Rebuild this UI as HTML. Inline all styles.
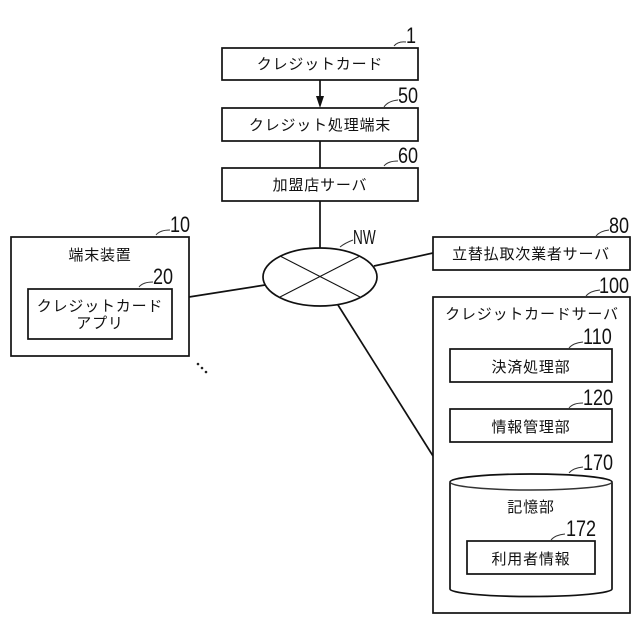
<!DOCTYPE html>
<html><head><meta charset="utf-8"><style>
html,body{margin:0;padding:0;background:#fff}
svg{display:block}
text{font-family:"Liberation Sans","Noto Sans CJK JP",sans-serif;fill:#111}
.j{font-size:15px;text-anchor:middle;letter-spacing:.8px}
.n{font-size:22px;font-family:"Liberation Sans",sans-serif}
rect,ellipse,path.s{fill:#fff;stroke:#111;stroke-width:1.7}
line{stroke:#111;stroke-width:1.7}
path.c{fill:none;stroke:#333;stroke-width:1}
</style></head><body>
<svg width="640" height="640" viewBox="0 0 640 640" xmlns="http://www.w3.org/2000/svg">
<rect x="0" y="0" width="640" height="640" style="fill:#fff;stroke:none"/>
<line x1="320" y1="80" x2="320" y2="100"/>
<path d="M316 96L324 96L320 108Z" fill="#111"/>
<line x1="320" y1="141" x2="320" y2="168"/>
<line x1="320" y1="201" x2="320" y2="248"/>
<line x1="189" y1="297" x2="265" y2="285"/>
<line x1="374" y1="266" x2="433" y2="253"/>
<line x1="338" y1="305" x2="433" y2="456"/>

<rect x="222" y="48" width="196" height="32"/>
<text class="j" x="320" y="69">クレジットカード</text>
<rect x="222" y="108" width="196" height="33"/>
<text class="j" x="320" y="130">クレジット処理端末</text>
<rect x="222" y="168" width="196" height="33"/>
<text class="j" x="320" y="190">加盟店サーバ</text>

<ellipse cx="320" cy="277" rx="57" ry="29"/>
<line x1="280" y1="256" x2="360" y2="297" style="stroke-width:1"/>
<line x1="360" y1="256" x2="280" y2="297" style="stroke-width:1"/>

<rect x="11" y="237" width="178" height="119"/>
<text class="j" x="100" y="260">端末装置</text>
<rect x="28" y="289" width="144" height="50"/>
<text class="j" x="100" y="311">クレジットカード</text>
<text class="j" x="100" y="328">アプリ</text>

<circle cx="198" cy="364" r="1.3" fill="#222"/>
<circle cx="202" cy="368" r="1.3" fill="#222"/>
<circle cx="206" cy="372" r="1.3" fill="#222"/>

<rect x="433" y="237" width="197" height="33"/>
<text class="j" x="531" y="259">立替払取次業者サーバ</text>

<rect x="433" y="297" width="197" height="316"/>
<text class="j" x="532" y="319">クレジットカードサーバ</text>
<rect x="450" y="349" width="162" height="33"/>
<text class="j" x="531" y="372">決済処理部</text>
<rect x="450" y="409" width="162" height="33"/>
<text class="j" x="531" y="432">情報管理部</text>

<path class="s" d="M450 482A81 8 0 0 1 612 482L612 589A81 7.500 0 0 1 450 589Z"/>
<path class="c" style="stroke-width:1.5" d="M450 482A81 8 0 0 0 612 482"/>
<text class="j" x="531" y="512">記憶部</text>
<rect x="467" y="541" width="128" height="33"/>
<text class="j" x="531" y="564">利用者情報</text>

<path class="c" d="M394 46Q398 41 406 42"/>
<text class="n" transform="translate(406 43) scale(.82 1)">1</text>
<path class="c" d="M384 107Q388 101 398 100"/>
<text class="n" transform="translate(398 103) scale(.82 1)">50</text>
<path class="c" d="M384 166Q388 161 398 161"/>
<text class="n" transform="translate(398 163) scale(.82 1)">60</text>
<path class="c" d="M156 235Q160 230 170 230"/>
<text class="n" transform="translate(170 232) scale(.82 1)">10</text>
<path class="c" d="M139 287Q143 282 153 282"/>
<text class="n" transform="translate(153 284) scale(.82 1)">20</text>
<path class="c" d="M340 247Q345 243 353 240"/>
<text class="n" style="font-size:20px" transform="translate(353 244) scale(.68 1)">NW</text>
<path class="c" d="M596 236Q600 231 609 230"/>
<text class="n" transform="translate(609 233) scale(.82 1)">80</text>
<path class="c" d="M586 296Q590 291 600 290"/>
<text class="n" transform="translate(599 293) scale(.82 1)">100</text>
<path class="c" d="M569 348Q573 343 583 342"/>
<text class="n" transform="translate(583 344) scale(.82 1)">110</text>
<path class="c" d="M569 408Q573 403 583 403"/>
<text class="n" transform="translate(583 405) scale(.82 1)">120</text>
<path class="c" d="M569 473Q573 468 583 467"/>
<text class="n" transform="translate(583 470) scale(.82 1)">170</text>
<path class="c" d="M551 540Q555 535 565 534"/>
<text class="n" transform="translate(566 536) scale(.82 1)">172</text>
</svg>
</body></html>
